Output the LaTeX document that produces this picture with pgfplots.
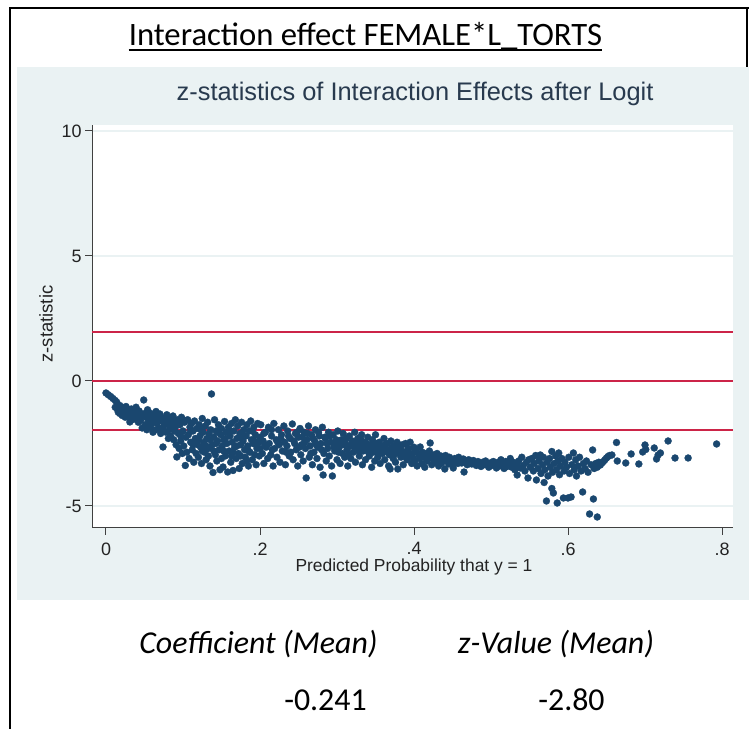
\documentclass[border=0pt]{standalone}
\usepackage{fontspec}
\setmainfont{Liberation Sans}
\newfontfamily\calfont{Carlito}
\usepackage{pgfplots}
\pgfplotsset{compat=1.18}
\definecolor{stnavy}{RGB}{26,71,111}
\definecolor{stbg}{RGB}{234,242,243}
\definecolor{stred}{RGB}{204,36,72}
\definecolor{sttext}{RGB}{35,35,35}
\definecolor{sttitle}{RGB}{40,58,78}
\begin{document}
\begin{tikzpicture}[x=1bp,y=1bp]
\path[use as bounding box] (0,0) rectangle (749,729);
\fill[white] (0,0) rectangle (749,729);
\fill[stbg] (17,129) rectangle (749,662);
\draw[line width=2.5bp] (10,0) -- (10,721) -- (749,721);
\draw[line width=2.5bp] (747,721) -- (747,662);
\node[anchor=base, inner sep=0pt] (hd) at (365.5,683) {\calfont\fontsize{32.8}{39}\selectfont Interaction effect FEMALE*L\_TORTS};
\draw[line width=1.8bp] ([yshift=0.9bp]hd.south west) -- ([yshift=0.9bp]hd.south east);
\node[anchor=base, inner sep=0pt] at (258.5,75) {\calfont\itshape\fontsize{32}{38}\selectfont Coefficient (Mean)};
\node[anchor=base, inner sep=0pt] at (556,75) {\calfont\itshape\fontsize{32}{38}\selectfont z-Value (Mean)};
\node[anchor=base, inner sep=0pt] at (325.5,18) {\calfont\fontsize{32}{38}\selectfont -0.241};
\node[anchor=base, inner sep=0pt] at (571.5,18) {\calfont\fontsize{32}{38}\selectfont -2.80};
\begin{axis}[
  at={(92bp,201bp)}, anchor=south west,
  scale only axis, width=641bp, height=403bp,
  xmin=-0.01818, xmax=0.8143, ymin=-5.88, ymax=10.24,
  axis x line*=bottom, axis y line*=left,
  axis background/.style={fill=white},
  axis line style={black!75, line width=1bp},
  tick align=outside, major tick length=7bp,
  tick style={black!75, line width=1bp},
  xtick={0,0.2,0.4,0.6,0.8}, xticklabels={0,.2,.4,.6,.8},
  ytick={-5,0,5,10}, yticklabels={-5,0,5,10},
  ymajorgrids, major grid style={stbg, line width=1.2bp},
  /pgf/number format/assume math mode=true,
  ticklabel style={font=\fontsize{18}{20}\selectfont, text=sttext},
  xticklabel style={yshift=-4bp},
  title={z-statistics of Interaction Effects after Logit},
  title style={at={(axis description cs:0.504,1.062)}, anchor=center, font=\fontsize{25.5}{30}\selectfont, text=sttitle},
  xlabel={Predicted Probability that y = 1},
  xlabel style={at={(axis description cs:0.5023,-0.0968)}, anchor=center, font=\fontsize{17.5}{20}\selectfont, text=sttext},
  ylabel={z-statistic},
  ylabel style={at={(axis description cs:-0.0718,0.506)}, anchor=center, font=\fontsize{18.5}{20}\selectfont, text=sttext},
  clip=false,
]
\addplot[stred, line width=1.8bp, forget plot] coordinates {(-0.01818,1.96) (0.8143,1.96)};
\addplot[stred, line width=1.8bp, forget plot] coordinates {(-0.01818,0) (0.8143,0)};
\addplot[stred, line width=1.8bp, forget plot] coordinates {(-0.01818,-1.96) (0.8143,-1.96)};
\addplot[only marks, mark=*, mark size=3.5bp, mark options={fill=stnavy, draw=stnavy, line width=0.3bp}] table[row sep=\\] {
x y\\
0.000 -0.48\\ 0.003 -0.55\\ 0.006 -0.62\\ 0.009 -0.70\\ 0.012 -0.78\\ 0.014 -0.85\\
0.012 -1.05\\ 0.015 -1.15\\ 0.018 -0.98\\ 0.020 -1.22\\ 0.022 -1.08\\ 0.024 -1.30\\ 0.026 -1.02\\ 0.028 -1.18\\
0.030 -1.40\\ 0.031 -1.64\\ 0.033 -1.12\\ 0.035 -1.26\\ 0.037 -1.50\\ 0.039 -1.05\\ 0.041 -1.35\\ 0.043 -1.20\\
0.045 -1.58\\ 0.047 -1.88\\ 0.049 -0.76\\ 0.050 -1.30\\ 0.052 -1.45\\ 0.054 -1.15\\ 0.018 -1.30\\ 0.021 -1.38\\
0.016 -1.25\\ 0.025 -1.45\\ 0.029 -1.25\\ 0.034 -1.55\\ 0.038 -1.30\\ 0.042 -1.65\\ 0.046 -1.40\\ 0.051 -1.75\\
0.053 -1.95\\ 0.056 -1.50\\ 0.059 -1.70\\ 0.061 -2.05\\ 0.063 -1.35\\ 0.067 -1.60\\ 0.071 -2.10\\ 0.073 -1.90\\
0.077 -1.65\\ 0.081 -2.30\\ 0.085 -1.80\\ 0.089 -2.00\\ 0.092 -1.70\\ 0.097 -2.20\\ 0.100 -1.55\\
0.055 -1.62\\ 0.057 -1.28\\ 0.058 -1.85\\ 0.060 -1.40\\ 0.062 -1.55\\ 0.064 -1.96\\ 0.065 -1.22\\ 0.066 -1.70\\
0.068 -1.45\\ 0.069 -1.90\\ 0.070 -1.32\\ 0.072 -1.60\\ 0.074 -2.64\\ 0.075 -1.80\\ 0.076 -1.48\\ 0.078 -2.05\\
0.079 -1.35\\ 0.080 -1.70\\ 0.082 -1.95\\ 0.083 -1.52\\ 0.084 -2.20\\ 0.086 -1.62\\ 0.087 -1.40\\ 0.088 -2.35\\
0.090 -1.85\\ 0.091 -2.55\\ 0.092 -3.04\\ 0.093 -1.55\\ 0.094 -2.10\\ 0.095 -2.70\\ 0.096 -1.75\\ 0.097 -2.40\\
0.098 -1.45\\ 0.099 -2.90\\ 0.100 -2.00\\ 0.101 -2.60\\ 0.102 -1.65\\ 0.103 -3.38\\ 0.104 -2.25\\ 0.105 -2.85\\
0.106 -1.55\\ 0.107 -2.15\\ 0.108 -3.10\\ 0.109 -1.85\\ 0.110 -2.45\\ 0.111 -1.70\\ 0.112 -2.75\\ 0.113 -2.00\\
0.114 -3.25\\ 0.115 -1.60\\ 0.116 -2.30\\ 0.117 -2.90\\ 0.118 -1.90\\ 0.119 -2.55\\ 0.120 -3.05\\ 0.121 -1.75\\
0.122 -2.20\\ 0.123 -2.65\\ 0.124 -3.30\\ 0.125 -1.50\\ 0.126 -2.05\\ 0.127 -2.45\\ 0.128 -2.85\\ 0.129 -1.80\\
0.130 -3.15\\ 0.131 -2.30\\ 0.132 -1.65\\ 0.133 -2.70\\ 0.134 -2.10\\ 0.135 -3.40\\ 0.136 -1.95\\ 0.137 -0.52\\
0.138 -2.55\\ 0.139 -3.66\\ 0.140 -2.25\\ 0.141 -1.55\\ 0.142 -2.95\\ 0.143 -2.00\\ 0.144 -3.20\\ 0.145 -2.40\\
0.146 -1.75\\ 0.147 -2.75\\ 0.148 -3.55\\ 0.149 -2.15\\ 0.150 -1.90\\ 0.151 -2.60\\ 0.152 -3.44\\ 0.153 -2.35\\
0.154 -1.62\\ 0.155 -3.00\\ 0.156 -2.05\\ 0.157 -2.50\\ 0.158 -3.64\\ 0.159 -1.85\\ 0.160 -2.80\\ 0.161 -2.20\\
0.162 -3.25\\ 0.163 -1.70\\ 0.164 -2.45\\ 0.165 -3.58\\ 0.166 -2.00\\ 0.167 -2.65\\ 0.168 -1.55\\ 0.169 -3.10\\
0.170 -2.30\\ 0.171 -1.80\\ 0.172 -2.90\\ 0.173 -3.50\\ 0.174 -2.10\\ 0.175 -2.55\\ 0.176 -1.65\\ 0.177 -3.30\\
0.178 -2.40\\ 0.179 -1.95\\ 0.180 -2.75\\ 0.181 -3.05\\ 0.182 -2.20\\ 0.183 -1.75\\ 0.184 -2.60\\ 0.185 -3.40\\
0.186 -2.00\\ 0.187 -2.85\\ 0.188 -1.60\\ 0.189 -2.35\\ 0.190 -3.15\\ 0.191 -2.50\\ 0.192 -1.85\\ 0.193 -2.95\\
0.194 -2.15\\ 0.195 -3.35\\ 0.196 -2.70\\ 0.197 -1.70\\ 0.198 -2.45\\ 0.199 -3.00\\ 0.200 -2.25\\
0.110 -2.00\\ 0.115 -2.50\\ 0.120 -2.35\\ 0.125 -2.80\\ 0.130 -2.60\\ 0.135 -2.35\\ 0.140 -2.80\\ 0.145 -2.05\\
0.150 -3.10\\ 0.155 -2.30\\ 0.160 -2.00\\ 0.165 -2.85\\ 0.170 -2.60\\ 0.175 -3.00\\ 0.180 -2.20\\ 0.185 -2.80\\
0.190 -2.00\\ 0.195 -2.55\\ 0.200 -2.70\\ 0.113 -2.55\\ 0.123 -1.95\\ 0.133 -3.00\\ 0.143 -2.50\\ 0.153 -2.80\\
0.163 -3.00\\ 0.173 -2.25\\ 0.183 -3.20\\ 0.193 -2.40\\
0.201 -1.75\\ 0.203 -2.90\\ 0.204 -2.40\\ 0.205 -3.30\\ 0.207 -2.05\\ 0.208 -2.65\\ 0.210 -3.10\\ 0.211 -1.85\\
0.212 -2.50\\ 0.214 -2.95\\ 0.215 -2.20\\ 0.217 -3.40\\ 0.218 -1.70\\ 0.219 -2.70\\ 0.221 -2.35\\ 0.222 -3.05\\
0.224 -1.95\\ 0.225 -2.55\\ 0.226 -3.25\\ 0.228 -2.15\\ 0.229 -2.80\\ 0.231 -1.80\\ 0.232 -2.45\\ 0.233 -3.35\\
0.235 -2.60\\ 0.236 -2.00\\ 0.238 -3.00\\ 0.239 -2.30\\ 0.240 -2.85\\ 0.242 -1.72\\ 0.243 -3.15\\ 0.245 -2.50\\
0.246 -2.10\\ 0.247 -2.75\\ 0.249 -3.40\\ 0.250 -2.25\\ 0.252 -1.90\\ 0.253 -2.95\\ 0.254 -2.55\\ 0.256 -3.20\\
0.257 -2.05\\ 0.259 -2.70\\ 0.260 -3.88\\ 0.261 -2.35\\ 0.263 -1.80\\ 0.264 -3.05\\ 0.265 -2.60\\ 0.267 -2.15\\
0.268 -3.35\\ 0.270 -2.85\\ 0.271 -2.40\\ 0.272 -1.95\\ 0.274 -3.10\\ 0.275 -2.65\\ 0.277 -2.20\\ 0.278 -3.45\\
0.279 -2.50\\ 0.281 -1.85\\ 0.282 -3.76\\ 0.283 -2.90\\ 0.285 -2.30\\ 0.286 -3.20\\ 0.288 -2.70\\ 0.289 -2.05\\
0.290 -3.00\\ 0.292 -2.45\\ 0.293 -3.40\\ 0.294 -3.80\\ 0.295 -2.15\\ 0.297 -2.80\\ 0.298 -2.55\\ 0.300 -3.15\\
0.301 -2.00\\ 0.303 -2.65\\ 0.304 -3.30\\ 0.306 -2.35\\ 0.307 -2.90\\ 0.308 -2.10\\ 0.310 -3.05\\ 0.311 -2.50\\
0.313 -2.75\\ 0.314 -3.40\\ 0.316 -2.20\\ 0.317 -2.60\\ 0.318 -3.10\\ 0.320 -2.40\\ 0.321 -2.85\\ 0.323 -2.05\\
0.324 -3.25\\ 0.326 -2.70\\ 0.327 -2.30\\ 0.329 -3.00\\ 0.330 -2.55\\ 0.332 -2.15\\ 0.333 -3.35\\ 0.334 -2.80\\
0.336 -2.45\\ 0.337 -3.15\\ 0.339 -2.65\\ 0.340 -2.25\\ 0.342 -3.00\\ 0.343 -2.55\\ 0.345 -3.45\\ 0.346 -2.35\\
0.347 -2.85\\ 0.349 -3.20\\ 0.350 -2.15\\ 0.352 -2.70\\ 0.353 -3.05\\ 0.355 -2.45\\ 0.356 -3.30\\ 0.358 -2.60\\
0.359 -2.90\\ 0.361 -2.30\\ 0.362 -3.15\\ 0.364 -2.75\\ 0.365 -2.50\\ 0.367 -3.40\\ 0.368 -2.95\\ 0.369 -3.52\\
0.370 -2.40\\ 0.372 -2.80\\ 0.373 -3.10\\ 0.375 -2.60\\ 0.376 -3.25\\ 0.378 -2.45\\ 0.379 -3.52\\ 0.380 -2.90\\
0.382 -2.70\\ 0.383 -3.05\\ 0.385 -2.55\\ 0.386 -3.35\\ 0.388 -2.85\\ 0.389 -2.50\\ 0.391 -3.15\\ 0.392 -2.75\\
0.394 -3.00\\ 0.395 -2.45\\ 0.397 -3.30\\ 0.398 -2.90\\ 0.400 -2.65\\
0.206 -2.55\\ 0.216 -2.75\\ 0.223 -2.45\\ 0.234 -2.85\\ 0.244 -2.40\\ 0.251 -2.65\\ 0.258 -2.45\\ 0.266 -2.90\\
0.273 -2.55\\ 0.280 -2.75\\ 0.287 -2.50\\ 0.296 -2.65\\ 0.302 -2.85\\ 0.309 -2.55\\ 0.315 -2.95\\ 0.322 -2.60\\
0.328 -2.80\\ 0.335 -2.70\\ 0.341 -2.85\\ 0.348 -2.55\\ 0.354 -2.90\\ 0.360 -2.65\\ 0.366 -2.85\\ 0.374 -2.95\\
0.381 -2.60\\ 0.387 -3.00\\ 0.393 -2.70\\ 0.399 -3.10\\
0.205 -2.10\\ 0.215 -1.95\\ 0.227 -2.30\\ 0.237 -2.20\\ 0.248 -2.05\\ 0.255 -2.25\\ 0.262 -2.10\\ 0.269 -2.30\\
0.276 -2.05\\ 0.284 -2.25\\ 0.291 -2.20\\ 0.299 -2.35\\ 0.305 -2.45\\ 0.312 -2.30\\ 0.319 -2.50\\ 0.325 -2.45\\
0.331 -2.35\\ 0.338 -2.50\\ 0.344 -2.70\\ 0.351 -2.50\\ 0.357 -2.70\\ 0.363 -2.55\\ 0.371 -2.65\\ 0.377 -2.80\\
0.384 -2.80\\ 0.390 -2.85\\ 0.396 -2.95\\
0.401 -3.20\\ 0.403 -2.80\\ 0.404 -3.40\\ 0.406 -2.95\\ 0.407 -3.10\\ 0.408 -2.64\\ 0.410 -3.30\\ 0.411 -2.85\\
0.413 -3.05\\ 0.414 -3.45\\ 0.416 -2.90\\ 0.417 -3.20\\ 0.419 -3.00\\ 0.420 -2.80\\ 0.421 -2.48\\ 0.423 -3.35\\
0.424 -3.10\\ 0.426 -2.95\\ 0.427 -3.25\\ 0.429 -3.05\\ 0.430 -2.90\\ 0.432 -3.40\\ 0.433 -3.15\\ 0.435 -3.00\\
0.436 -3.28\\ 0.438 -3.10\\ 0.440 -3.52\\ 0.441 -2.98\\ 0.443 -3.20\\ 0.445 -3.32\\ 0.446 -3.05\\ 0.448 -3.15\\
0.450 -3.25\\ 0.451 -3.48\\ 0.453 -3.10\\ 0.455 -3.20\\ 0.457 -3.30\\ 0.458 -3.05\\ 0.460 -3.18\\ 0.462 -3.28\\
0.464 -3.12\\ 0.465 -3.64\\ 0.467 -3.22\\ 0.469 -3.35\\ 0.471 -3.15\\ 0.473 -3.25\\ 0.475 -3.32\\ 0.477 -3.18\\
0.479 -3.28\\ 0.481 -3.38\\ 0.483 -3.22\\ 0.485 -3.30\\ 0.487 -3.42\\ 0.489 -3.25\\ 0.491 -3.35\\ 0.493 -3.20\\
0.495 -3.30\\ 0.497 -3.45\\ 0.499 -3.28\\ 0.501 -3.38\\ 0.503 -3.22\\ 0.505 -3.32\\ 0.507 -3.48\\ 0.509 -3.25\\
0.511 -3.40\\ 0.513 -3.15\\ 0.515 -3.35\\ 0.517 -3.50\\ 0.519 -3.22\\ 0.521 -3.42\\ 0.523 -3.30\\ 0.525 -3.10\\
0.527 -3.45\\ 0.529 -3.25\\ 0.531 -3.55\\ 0.533 -3.35\\ 0.534 -3.76\\ 0.536 -3.20\\ 0.538 -3.48\\ 0.540 -3.05\\
0.542 -3.38\\ 0.544 -3.60\\ 0.546 -3.25\\ 0.548 -3.88\\ 0.549 -3.15\\
0.551 -3.45\\ 0.553 -3.10\\ 0.555 -3.60\\ 0.556 -3.30\\ 0.558 -2.98\\ 0.559 -3.96\\ 0.561 -3.50\\ 0.562 -3.20\\
0.564 -2.96\\ 0.565 -3.70\\ 0.567 -3.35\\ 0.568 -3.05\\ 0.569 -4.06\\ 0.570 -3.55\\ 0.572 -4.80\\ 0.573 -3.25\\
0.574 -3.80\\ 0.576 -3.10\\ 0.577 -3.45\\ 0.579 -2.82\\ 0.579 -4.30\\ 0.580 -3.65\\ 0.581 -4.48\\ 0.582 -3.30\\
0.584 -3.00\\ 0.585 -3.55\\ 0.586 -4.88\\ 0.587 -3.20\\ 0.588 -2.88\\ 0.589 -3.75\\ 0.590 -3.40\\ 0.592 -3.10\\
0.594 -4.68\\ 0.595 -3.60\\ 0.596 -3.25\\ 0.598 -3.45\\ 0.600 -4.68\\ 0.601 -3.05\\ 0.602 -3.70\\ 0.604 -4.64\\
0.605 -3.35\\ 0.607 -2.88\\ 0.608 -3.55\\ 0.610 -3.15\\ 0.611 -3.80\\ 0.613 -3.40\\ 0.615 -3.05\\ 0.617 -3.60\\
0.619 -4.44\\ 0.620 -3.30\\ 0.622 -3.50\\ 0.624 -3.20\\ 0.626 -3.65\\ 0.628 -5.32\\ 0.630 -3.35\\ 0.632 -2.76\\
0.633 -4.72\\ 0.634 -3.50\\ 0.636 -3.30\\ 0.638 -5.44\\ 0.638 -3.45\\ 0.640 -3.25\\
0.642 -3.36\\ 0.644 -3.28\\ 0.646 -3.22\\ 0.648 -3.15\\ 0.650 -3.08\\ 0.652 -3.02\\ 0.654 -2.98\\ 0.657 -2.96\\
0.663 -2.46\\ 0.664 -3.20\\ 0.675 -3.28\\ 0.682 -2.92\\ 0.692 -3.32\\ 0.697 -2.84\\ 0.700 -2.56\\ 0.701 -2.74\\
0.712 -2.68\\ 0.715 -3.12\\ 0.717 -2.96\\ 0.720 -2.88\\ 0.730 -2.40\\ 0.739 -3.08\\ 0.756 -3.08\\ 0.793 -2.52\\
};
\end{axis}
\end{tikzpicture}
\end{document}
